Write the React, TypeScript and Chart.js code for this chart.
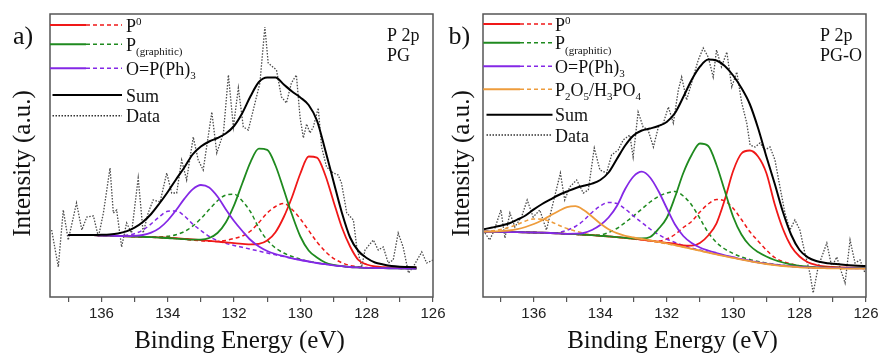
import React, { useEffect, useRef } from 'react';
import { Chart, registerables } from 'chart.js';

Chart.register(...registerables);

// ---------------- data : panel a (PG) ----------------
const ENERGY_A = [137, 136.75, 136.5, 136.25, 136, 135.75, 135.5, 135.25, 135, 134.75, 134.5, 134.25, 134, 133.75, 133.5, 133.25, 133, 132.75, 132.5, 132.25, 132, 131.75, 131.5, 131.25, 131, 130.75, 130.5, 130.25, 130, 129.75, 129.5, 129.25, 129, 128.75, 128.5, 128.25, 128, 127.75, 127.5, 127.25, 127, 126.75, 126.5];
const P0_A = [62, 62, 62, 61.8, 61.5, 61.3, 61, 60.7, 60.4, 60.2, 59.9, 59.6, 59.3, 58.8, 58.2, 57.6, 56.9, 56.2, 55.4, 54.6, 53.8, 53.2, 52.6, 53.1, 56.4, 64.8, 80, 100, 123.5, 140.5, 139.4, 122, 95.6, 69.7, 50.5, 37, 32.5, 30.5, 29.8, 29.6, 29.5, 29.4, 29.3];
const PGRAPH_A = [62, 62, 62, 61.8, 61.5, 61.3, 61, 60.7, 60.4, 60.1, 59.8, 59.4, 59, 58.4, 57.8, 57.3, 57.4, 59, 64, 74.5, 91.6, 113.7, 135.2, 148.3, 147.1, 131.5, 107.2, 82.2, 60.5, 46.5, 39.5, 34.5, 32.1, 30.9, 30, 29.6, 29.2, 29, 28.8, 28.7, 28.6, 28.5, 28.5];
const OPPH3_A = [62, 62, 62, 61.8, 61.5, 61.3, 61, 60.9, 61.1, 62, 64.3, 68.9, 76.5, 86.7, 98.1, 107.6, 112, 109.5, 100.5, 87.8, 76, 66, 57, 50.5, 46, 43, 40.8, 38.7, 37, 35.5, 34, 32.8, 31.7, 30.8, 30, 29.6, 29.2, 29, 28.8, 28.7, 28.6, 28.5, 28.5];
const P0_DASH_A = [62, 62, 62, 61.8, 61.5, 61.3, 61, 60.7, 60.4, 60.1, 59.8, 59.4, 59, 58.4, 57.7, 56.9, 56.25, 55.7, 55.6, 56.5, 58.5, 61, 66, 74.5, 84, 90.5, 93.5, 87.5, 78.1, 66.6, 55.1, 45.7, 38.7, 34.3, 31.5, 30.2, 29.4, 29, 28.8, 28.7, 28.6, 28.5, 28.5];
const PGRAPH_DASH_A = [62, 62, 62, 61.8, 61.5, 61.3, 61, 60.7, 60.4, 60.1, 60.05, 60.1, 60.7, 62.3, 65.4, 70.8, 78.4, 87.5, 96.2, 101.9, 102.8, 96, 85, 69, 57, 49, 44, 40.5, 37.8, 35.8, 34.1, 32.8, 31.7, 30.8, 30, 29.6, 29.2, 29, 28.8, 28.7, 28.6, 28.5, 28.5];
const OPPH3_DASH_A = [62, 62, 62, 61.8, 61.5, 61.3, 61.3, 61.7, 63.3, 67, 73.1, 80.3, 85.7, 86.1, 81.1, 73, 66.5, 60.5, 56.4, 53.6, 51.6, 49.7, 47.8, 45.9, 44, 42.2, 40.5, 38.7, 37, 35.5, 34, 32.8, 31.7, 30.8, 30, 29.6, 29.2, 29, 28.8, 28.7, 28.6, 28.5, 28.5];
const SUM_A = [62, 62, 62, 62, 62.2, 62.6, 63.6, 65.6, 69.3, 75, 83, 93.5, 105, 117.5, 129.5, 142.5, 150.5, 155.5, 159, 163.5, 171, 184, 201, 215, 219.5, 219.5, 212.5, 205.5, 199.5, 192, 176.5, 147, 115.5, 84.5, 59.5, 46, 39, 34.5, 32.5, 31, 30.3, 30, 29.7];
const DATA_A_X = [137.5, 137.3, 137.15, 137, 136.75, 136.59, 136.44, 136.24, 136.09, 135.94, 135.74, 135.64, 135.54, 135.39, 135.24, 135.09, 134.89, 134.74, 134.59, 134.44, 134.23, 134.03, 133.88, 133.73, 133.58, 133.43, 133.23, 133.08, 132.93, 132.67, 132.52, 132.32, 132.17, 132.02, 131.87, 131.72, 131.57, 131.42, 131.22, 131.07, 130.97, 130.72, 130.57, 130.42, 130.27, 130.12, 130.01, 129.91, 129.81, 129.71, 129.61, 129.46, 129.36, 129.21, 129.01, 128.86, 128.76, 128.6, 128.4, 128.3, 128.15, 128.05, 127.8, 127.65, 127.5, 127.35, 127.2, 127.05, 126.9, 126.74, 126.6, 126.34, 126.19, 126];
const DATA_A_Y = [67, 30, 87, 57, 94, 67, 80, 81, 60, 84, 129, 84, 87, 50, 74, 64, 119, 64, 84, 97, 95, 124, 104, 104, 137, 117, 160, 137, 127, 185, 144, 164, 222, 170, 209, 170, 167, 187, 214, 270, 234, 227, 200, 194, 214, 222, 180, 159, 173, 164, 170, 189, 150, 130, 124, 122, 114, 84, 77, 50, 30, 47, 57, 47, 50, 34, 37, 64, 50, 24, 30, 45, 34, 37];

// ---------------- data : panel b (PG-O) ----------------
const ENERGY_B = [137.5, 137.25, 137, 136.75, 136.5, 136.25, 136, 135.75, 135.5, 135.25, 135, 134.75, 134.5, 134.25, 134, 133.75, 133.5, 133.25, 133, 132.75, 132.5, 132.25, 132, 131.75, 131.5, 131.25, 131, 130.75, 130.5, 130.25, 130, 129.75, 129.5, 129.25, 129, 128.75, 128.5, 128.25, 128, 127.75, 127.5, 127.25, 127, 126.75, 126.5, 126.25, 126];
const P0_B = [65.3, 65.2, 65.1, 65, 64.9, 64.7, 64.5, 64.3, 64, 63.6, 63.2, 62.8, 62.3, 61.8, 61.2, 60.6, 59.9, 59.1, 58.3, 57.4, 56.4, 55.3, 54.2, 53, 51.5, 51.3, 54, 61.5, 73.7, 97.5, 126, 143.5, 146.5, 140.5, 124, 93, 68, 50.5, 40.5, 34.8, 32, 30.6, 30, 29.6, 29.4, 29.3, 29.3];
const PGRAPH_B = [65.3, 65.2, 65.1, 65, 64.9, 64.7, 64.5, 64.3, 64, 63.6, 63.2, 62.8, 62.3, 61.8, 61.2, 60.6, 59.9, 59.1, 58.5, 58.5, 60, 68, 79, 100, 124, 142, 153.5, 151, 132, 106, 80.3, 62.5, 51.5, 45, 40.5, 37, 34.5, 32.5, 31.2, 30.4, 29.7, 29.5, 29.3, 29.2, 29.1, 29, 29];
const OPPH3_B = [65.3, 65.2, 65.1, 65, 64.9, 64.7, 64.5, 64.3, 64, 63.6, 63.2, 63.3, 64, 67, 72, 79.5, 91, 108, 120.5, 125.3, 119.5, 106, 89, 72.5, 61, 54, 49.5, 46.5, 44, 41.7, 39.8, 37.8, 36.2, 34.7, 33.4, 32.3, 31.4, 30.7, 30.1, 29.7, 29.4, 29.2, 29, 28.9, 28.8, 28.7, 28.7];
const P2O5_B = [65.3, 65.4, 65.8, 66.5, 67.8, 70, 73, 76.8, 81.5, 86, 89.8, 90.8, 87, 80.5, 73.5, 67.8, 63.8, 61.2, 59.5, 58, 56.6, 55.1, 53.6, 51.8, 50, 48.2, 46.3, 44.4, 42.6, 40.8, 39.1, 37.4, 35.8, 34.3, 33, 31.9, 31, 30.3, 29.7, 29.3, 29, 28.8, 28.6, 28.5, 28.4, 28.3, 28.3];
const P0_DASH_B = [65.3, 65.2, 65.1, 65, 64.9, 64.7, 64.5, 64.3, 64, 63.6, 63.2, 62.8, 62.3, 61.8, 61.2, 60.6, 59.9, 59.1, 58.3, 57.3, 56.2, 56, 58, 62.5, 69.5, 75.5, 85, 93, 97.5, 96, 88.7, 77.5, 65.5, 56, 47, 39.5, 35.5, 33, 31.3, 30.2, 29.6, 29.3, 29.1, 28.9, 28.8, 28.7, 28.7];
const PGRAPH_DASH_B = [65.3, 65.2, 65.1, 65, 64.9, 64.7, 64.5, 64.3, 64, 63.6, 63.2, 62.8, 62.3, 61.8, 62, 64.5, 68.5, 74.5, 81, 88, 95, 100.5, 104, 105.5, 101, 92, 78.5, 64.5, 54.5, 48, 43.5, 40, 37.5, 35.5, 34, 32.7, 31.7, 30.9, 30.2, 29.8, 29.4, 29.2, 29, 28.9, 28.8, 28.7, 28.7];
const OPPH3_DASH_B = [65.3, 65.2, 65.1, 65, 64.9, 64.7, 64.5, 64.3, 64, 64.5, 66.8, 70.5, 76.5, 84.5, 91, 94.5, 93.5, 88, 81, 74.5, 68, 62.5, 58, 54.5, 51.5, 49, 47, 44.8, 43, 41.2, 39.5, 37.8, 36.2, 34.7, 33.4, 32.3, 31.4, 30.7, 30.1, 29.7, 29.4, 29.2, 29, 28.9, 28.8, 28.7, 28.7];
const P2O5_DASH_B = [65.5, 66.2, 67.5, 69.5, 72.5, 76, 78, 77.8, 75.5, 71.8, 68.5, 66, 63.8, 62.3, 61.3, 60.3, 59.6, 58.8, 58, 57, 55.9, 54.6, 53.2, 51.7, 50, 48.2, 46.3, 44.5, 42.7, 40.9, 39.2, 37.5, 35.9, 34.4, 33.1, 32, 31.1, 30.4, 29.8, 29.4, 29.1, 28.9, 28.7, 28.6, 28.5, 28.4, 28.4];
const SUM_B = [67.8, 69.5, 71.3, 73.5, 77.3, 81.5, 87.6, 93, 97.6, 102, 105.5, 108.8, 111.2, 113.4, 117, 124.5, 138, 151.5, 161.5, 166.5, 168.5, 171, 175, 184, 200, 217, 230.3, 237.5, 236.5, 231, 221.5, 209, 193, 169, 140.5, 113.5, 85, 62, 47, 39.7, 36, 34.3, 33.3, 32.5, 31.8, 31.3, 31];
const DATA_B_X = [137.47, 137.33, 137.2, 136.99, 136.87, 136.72, 136.57, 136.37, 136.2, 136.02, 135.82, 135.62, 135.42, 135.2, 135.07, 134.92, 134.71, 134.51, 134.36, 134.18, 134.01, 133.81, 133.66, 133.46, 133.31, 133.11, 133.01, 132.86, 132.71, 132.56, 132.4, 132.25, 132.1, 131.95, 131.8, 131.65, 131.55, 131.4, 131.2, 131.05, 130.9, 130.75, 130.6, 130.5, 130.35, 130.19, 130.04, 129.89, 129.74, 129.59, 129.49, 129.34, 129.19, 129.04, 128.89, 128.74, 128.59, 128.44, 128.29, 128.14, 127.99, 127.84, 127.69, 127.59, 127.44, 127.29, 127.18, 127.03, 126.88, 126.73, 126.63, 126.48, 126.33, 126.18, 126.03];
const DATA_B_Y = [64, 57, 66, 87, 59, 84, 70, 80, 97, 80, 87, 67, 94, 124, 97, 110, 117, 104, 107, 149, 127, 124, 142, 147, 157, 162, 140, 185, 170, 167, 150, 170, 174, 190, 174, 207, 220, 197, 220, 237, 249, 240, 220, 247, 230, 245, 210, 225, 194, 174, 152, 150, 154, 147, 150, 137, 110, 84, 67, 77, 67, 44, 24, 4, 30, 44, 54, 30, 40, 24, 14, 57, 34, 37, 24];

// ---------------- axis ticks ----------------
const X_TICKS = [126, 127, 128, 129, 130, 131, 132, 133, 134, 135, 136, 137];
const X_TICK_LABELS = ['126', '', '128', '', '130', '', '132', '', '134', '', '136', ''];

// ---------------- legend text runs ----------------
const LABEL_P0: [string, string][] = [['P', 'n'], ['0', 'sup']];
const LABEL_PG: [string, string][] = [['P', 'n'], ['(graphitic)', 'sub']];
const LABEL_OPPH3: [string, string][] = [['O=P(Ph)', 'n'], ['3', 'sub']];
const LABEL_P2O5: [string, string][] = [['P', 'n'], ['2', 'sub'], ['O', 'n'], ['5', 'sub'], ['/H', 'n'], ['3', 'sub'], ['PO', 'n'], ['4', 'sub']];
const LABEL_SUM: [string, string][] = [['Sum', 'n']];
const LABEL_DATA: [string, string][] = [['Data', 'n']];

// ---------------- styles ----------------
const SERIF = '"Liberation Serif", "Times New Roman", Times, serif';
const SANS = '"Liberation Sans", Arial, sans-serif';
const RED = '#f01818';
const GREEN = '#1f8a1f';
const PURPLE = '#8428e6';
const ORANGE = '#ee9c3c';
const FRAME = '#555555';
const DATA_COLOR = '#4a4a4a';

const SPEC_A = {
  letter: 'a)',
  notes: ['P 2p', 'PG'],
  energy: ENERGY_A,
  components: [
    { color: RED, solid: P0_A, dashed: P0_DASH_A, label: LABEL_P0 },
    { color: GREEN, solid: PGRAPH_A, dashed: PGRAPH_DASH_A, label: LABEL_PG },
    { color: PURPLE, solid: OPPH3_A, dashed: OPPH3_DASH_A, label: LABEL_OPPH3 },
  ],
  sum: SUM_A,
  dataX: DATA_A_X,
  dataY: DATA_A_Y,
  xMax: 137.55,
  layout: {
    padding: { left: 50, top: 14, right: 37, bottom: 0 },
    letterX: 13, noteX: 387, yTitleX: 29.5,
    leg: { x0: 50, x1: 86, x2: 122, sx0: 52.5, tx: 126, rows: [25, 44.3, 68.3, 95, 115.7] },
  },
};

const SPEC_B = {
  letter: 'b)',
  notes: ['P 2p', 'PG-O'],
  energy: ENERGY_B,
  components: [
    { color: RED, solid: P0_B, dashed: P0_DASH_B, label: LABEL_P0 },
    { color: GREEN, solid: PGRAPH_B, dashed: PGRAPH_DASH_B, label: LABEL_PG },
    { color: PURPLE, solid: OPPH3_B, dashed: OPPH3_DASH_B, label: LABEL_OPPH3 },
    { color: ORANGE, solid: P2O5_B, dashed: P2O5_DASH_B, label: LABEL_P2O5 },
  ],
  sum: SUM_B,
  dataX: DATA_B_X,
  dataY: DATA_B_Y,
  xMax: 137.53,
  layout: {
    padding: { left: 43, top: 14, right: 13, bottom: 0 },
    letterX: 8.5, noteX: 380, yTitleX: 29,
    leg: { x0: 43.3, x1: 80, x2: 112.5, sx0: 46.5, tx: 115, rows: [24, 42.7, 66.3, 89.3, 114.7, 135] },
  },
};

function drawRuns(ctx: CanvasRenderingContext2D, runs: [string, string][], x: number, y: number) {
  let cx = x;
  for (const [t, kind] of runs) {
    const size = kind === 'n' ? 18 : 11;
    const dy = kind === 'sup' ? -6.5 : kind === 'sub' ? 4.5 : 0;
    ctx.font = `${size}px ${SERIF}`;
    ctx.fillText(t, cx, y + dy);
    cx += ctx.measureText(t).width;
  }
}

function overlayPlugin(spec: any) {
  return {
    id: 'overlay',
    afterDraw(chart: any) {
      const ctx: CanvasRenderingContext2D = chart.ctx;
      const a = chart.chartArea;
      const L = spec.layout;
      ctx.save();
      ctx.setLineDash([]);
      ctx.strokeStyle = FRAME;
      ctx.lineWidth = 1.5;
      ctx.strokeRect(a.left, a.top, a.right - a.left, a.bottom - a.top);

      ctx.fillStyle = '#111';
      ctx.textAlign = 'left';
      ctx.textBaseline = 'alphabetic';
      ctx.font = `26px ${SERIF}`;
      ctx.fillText(spec.letter, L.letterX, 43.5);

      ctx.font = `18px ${SERIF}`;
      spec.notes.forEach((t: string, i: number) => ctx.fillText(t, L.noteX, 40.7 + i * 20.3));

      ctx.textAlign = 'center';
      ctx.font = `25px ${SERIF}`;
      ctx.fillText('Binding Energy (eV)', (a.left + a.right) / 2 - 2, 348);
      ctx.save();
      ctx.translate(L.yTitleX, 163.5);
      ctx.rotate(-Math.PI / 2);
      ctx.fillText('Intensity (a.u.)', 0, 0);
      ctx.restore();

      // legend
      ctx.textAlign = 'left';
      const g = L.leg;
      const items = [
        ...spec.components.map((c: any) => ({ kind: 'comp', color: c.color, label: c.label })),
        { kind: 'sum', label: LABEL_SUM },
        { kind: 'data', label: LABEL_DATA },
      ];
      items.forEach((it: any, i: number) => {
        const y = g.rows[i];
        ctx.beginPath();
        if (it.kind === 'comp') {
          ctx.setLineDash([]);
          ctx.strokeStyle = it.color;
          ctx.lineWidth = 2;
          ctx.moveTo(g.x0, y);
          ctx.lineTo(g.x1, y);
          ctx.stroke();
          ctx.beginPath();
          ctx.setLineDash([4, 3]);
          ctx.lineWidth = 1.6;
          ctx.moveTo(g.x1, y);
          ctx.lineTo(g.x2, y);
          ctx.stroke();
        } else if (it.kind === 'sum') {
          ctx.setLineDash([]);
          ctx.strokeStyle = '#000';
          ctx.lineWidth = 2;
          ctx.moveTo(g.sx0, y);
          ctx.lineTo(g.x2, y);
          ctx.stroke();
        } else {
          ctx.setLineDash([1.5, 1.5]);
          ctx.strokeStyle = '#333';
          ctx.lineWidth = 1.4;
          ctx.moveTo(g.sx0, y);
          ctx.lineTo(g.x2, y);
          ctx.stroke();
        }
        ctx.setLineDash([]);
        ctx.fillStyle = '#111';
        drawRuns(ctx, it.label, g.tx, y + 6.5);
      });
      ctx.restore();
    },
  };
}

function makeChart(canvas: HTMLCanvasElement, spec: any) {
  const pts = (xs: number[], ys: number[]) => xs.map((x, i) => ({ x, y: ys[i] }));
  const common = { pointRadius: 0, fill: false, cubicInterpolationMode: 'monotone' as const };
  const datasets: any[] = [];
  spec.components.forEach((c: any, i: number) => {
    datasets.push({ ...common, data: pts(spec.energy, c.solid), borderColor: c.color, borderWidth: 1.8, order: 1 + (spec.components.length - i) });
    datasets.push({ ...common, data: pts(spec.energy, c.dashed), borderColor: c.color, borderWidth: 1.5, borderDash: [4, 3], order: 10 + (spec.components.length - i) });
  });
  datasets.push({ ...common, data: pts(spec.energy, spec.sum), borderColor: '#000', borderWidth: 2, order: 0 });
  datasets.push({ pointRadius: 0, fill: false, tension: 0, data: pts(spec.dataX, spec.dataY), borderColor: DATA_COLOR, borderWidth: 1.3, borderDash: [1.5, 1.5], order: 50 });

  return new Chart(canvas, {
    type: 'line',
    data: { datasets },
    options: {
      animation: false,
      responsive: false,
      devicePixelRatio: 1,
      events: [],
      layout: { padding: spec.layout.padding },
      scales: {
        x: {
          type: 'linear',
          reverse: true,
          min: 126,
          max: spec.xMax,
          afterBuildTicks: (s: any) => { s.ticks = X_TICKS.map((v) => ({ value: v })); },
          afterFit: (s: any) => { s.height = 56; },
          ticks: {
            autoSkip: false,
            maxRotation: 0,
            minRotation: 0,
            padding: 3,
            color: '#222',
            font: { family: SANS, size: 15 },
            callback: (v: any) => {
              const k = X_TICKS.indexOf(Number(v));
              return k >= 0 ? X_TICK_LABELS[k] : '';
            },
          },
          grid: { drawOnChartArea: false, drawTicks: true, tickLength: 5, color: FRAME, lineWidth: 1.2 },
          border: { display: false },
        },
        y: { display: false, min: 0, max: 283 },
      },
      plugins: { legend: { display: false }, tooltip: { enabled: false } },
    } as any,
    plugins: [overlayPlugin(spec)],
  });
}

export default function App() {
  const refA = useRef<HTMLCanvasElement>(null);
  const refB = useRef<HTMLCanvasElement>(null);
  useEffect(() => {
    const ca = makeChart(refA.current!, SPEC_A);
    const cb = makeChart(refB.current!, SPEC_B);
    return () => {
      ca.destroy();
      cb.destroy();
    };
  }, []);
  return (
    <div style={{ position: 'absolute', left: 0, top: 0, width: 879, height: 353, background: '#fff', overflow: 'hidden' }}>
      <canvas ref={refA} width={470} height={353} style={{ position: 'absolute', left: 0, top: 0, width: 470, height: 353 }} />
      <canvas ref={refB} width={439} height={353} style={{ position: 'absolute', left: 440, top: 0, width: 439, height: 353 }} />
    </div>
  );
}
